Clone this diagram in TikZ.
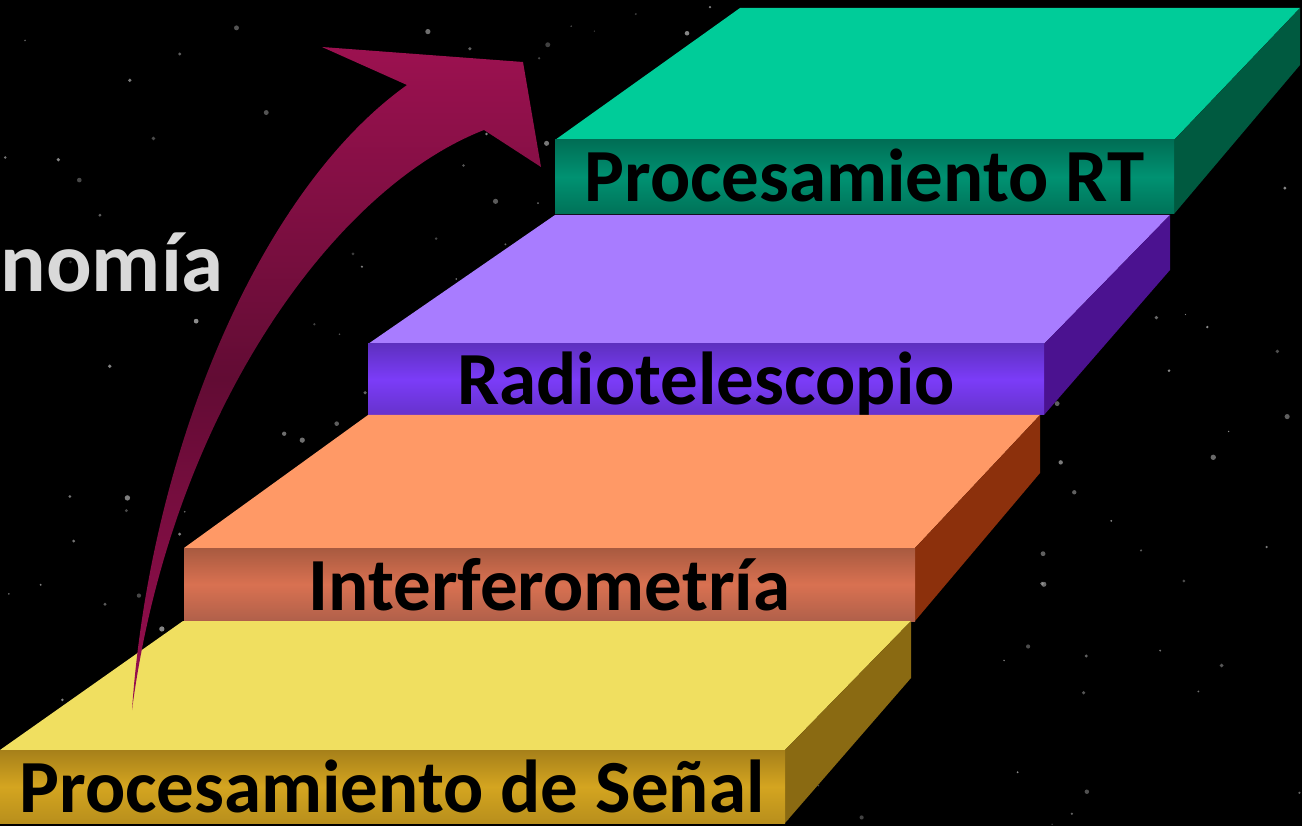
\documentclass[tikz,border=0pt]{standalone}
\usepackage{fontspec}
\setmainfont{Carlito}
\definecolor{yTop}{HTML}{F0DF60}
\definecolor{yFrontA}{HTML}{A6801A}
\definecolor{yFrontB}{HTML}{D4A520}
\definecolor{yFrontC}{HTML}{B88F1C}
\definecolor{ySide}{HTML}{8A6A12}
\definecolor{oTop}{HTML}{FF9966}
\definecolor{oFrontA}{HTML}{A85A40}
\definecolor{oFrontB}{HTML}{D97151}
\definecolor{oFrontC}{HTML}{B0604A}
\definecolor{oSide}{HTML}{8C300C}
\definecolor{pTop}{HTML}{A87CFF}
\definecolor{pFrontA}{HTML}{5E30C0}
\definecolor{pFrontB}{HTML}{7B3CF8}
\definecolor{pFrontC}{HTML}{6632CC}
\definecolor{pSide}{HTML}{4B1290}
\definecolor{gTop}{HTML}{00CC99}
\definecolor{gFrontA}{HTML}{006E55}
\definecolor{gFrontB}{HTML}{009272}
\definecolor{gFrontC}{HTML}{007258}
\definecolor{gSide}{HTML}{005A40}
\definecolor{arrA}{HTML}{9C1150}
\definecolor{arrB}{HTML}{620C34}
\definecolor{arrC}{HTML}{9A0E50}
\definecolor{ghost}{HTML}{D9D9D9}
\begin{document}
\begin{tikzpicture}[x=1pt,y=-1pt,
  lbl/.style={font=\fontsize{75}{80}\selectfont\bfseries, text=black, anchor=base, inner sep=0pt},
  ghosttext/.style={font=\fontsize{85}{90}\selectfont\bfseries, text=ghost, anchor=base east, inner sep=0pt},
  star/.style={fill=gray!70!white}
  ]
\useasboundingbox (0,0) rectangle (1302,826);
\fill[black] (0,0) rectangle (1302,826);
\clip (0,0) rectangle (1302,826);
% stars
\pgfmathsetseed{7}
\foreach \i in {1,...,230}{
  \pgfmathsetmacro\sx{rnd*1302}
  \pgfmathsetmacro\sy{rnd*826}
  \pgfmathsetmacro\sr{0.7+rnd*2.0}
  \pgfmathsetmacro\so{0.35+rnd*0.5}
  \fill[star, opacity=\so] (\sx,\sy) circle[radius=\sr pt];
}
% partial title
\node[ghosttext] (title) at (224,292) {onomía};
% slab 4 (green)
\fill[gTop] (555,140) -- (740,8) -- (1300,8) -- (1174,140) -- cycle;
\fill[gSide] (1174,140) -- (1300,8) -- (1300,65) -- (1174,214) -- cycle;
\shade[top color=gFrontA, bottom color=gFrontC, middle color=gFrontB] (555,140) rectangle (1174,214);
\node[lbl] (s4) at (864.5,202) {Procesamiento RT};
% slab 3 (purple)
\fill[pTop] (368,344) -- (555,215) -- (1170,215) -- (1044,344) -- cycle;
\fill[pSide] (1044,344) -- (1170,215) -- (1170,270) -- (1044,415) -- cycle;
\shade[top color=pFrontA, bottom color=pFrontC, middle color=pFrontB] (368,344) rectangle (1044,415);
\node[lbl] (s3) at (706,405) {Radiotelescopio};
% slab 2 (orange)
\fill[oTop] (184,548) -- (368,415) -- (1040,415) -- (915,548) -- cycle;
\fill[oSide] (915,548) -- (1040,415) -- (1040,473) -- (915,621) -- cycle;
\shade[top color=oFrontA, bottom color=oFrontC, middle color=oFrontB] (184,548) rectangle (915,621);
\node[lbl] (s2) at (549.5,610) {Interferometría};
% slab 1 (yellow)
\fill[yTop] (0,750) -- (183,621) -- (911,621) -- (785,750) -- cycle;
\fill[ySide] (785,750) -- (911,621) -- (911,678) -- (785,823) -- cycle;
\shade[top color=yFrontA, bottom color=yFrontC, middle color=yFrontB] (0,750) rectangle (785,823);
\node[lbl] (s1) at (392,812) {Procesamiento de Señal};
% curved arrow
\shade[top color=arrA, bottom color=arrC, middle color=arrB]
  (132,710) .. controls (150,450) and (260,190) .. (407,85)
  -- (322,47) -- (523,62) -- (541,167) -- (484,130)
  .. controls (330,190) and (170,420) .. (132,710) -- cycle;
\end{tikzpicture}
\end{document}
